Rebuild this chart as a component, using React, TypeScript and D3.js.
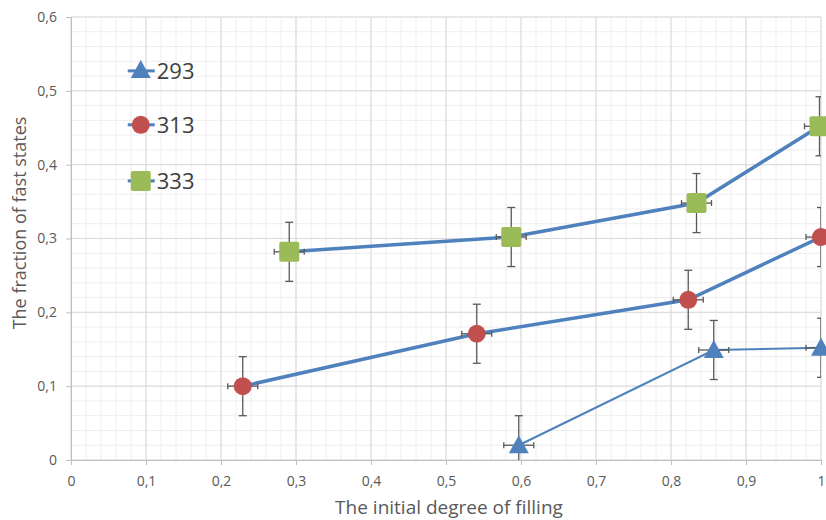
import * as React from "react";
import * as d3 from "d3";

const xTicks = [0, 0.1, 0.2, 0.3, 0.4, 0.5, 0.6, 0.7, 0.8, 0.9, 1];
const yTicks = [0, 0.1, 0.2, 0.3, 0.4, 0.5, 0.6];

const s293x = [0.597, 0.857, 1.0];
const s293y = [0.02, 0.149, 0.152];
const s313x = [0.229, 0.541, 0.823, 1.0];
const s313y = [0.1, 0.171, 0.217, 0.302];
const s333x = [0.291, 0.587, 0.834, 0.998];
const s333y = [0.282, 0.302, 0.348, 0.452];

const errX = 0.02;
const errY = 0.04;

const legendNames = ["293", "313", "333"];
const legendX = 0.093;
const legendY = [0.527, 0.454, 0.378];

const fmt = (v: number) => (v === 0 || v === 1 ? String(v) : String(v).replace(".", ","));

function drawChart(svgRef: React.RefObject<SVGSVGElement>) {
  const margin = { top: 17, left: 71 };
  const width = 750;
  const height = 443;
  const lineBlue = "#4F81BD";
  const textCol = "#595959";
  const font = "'Open Sans', 'Noto Sans', sans-serif";

  const x = d3.scaleLinear().domain([0, 1]).range([0, width]);
  const y = d3.scaleLinear().domain([0, 0.6]).range([height, 0]);

  const svgEl = d3.select(svgRef.current).attr("width", 826).attr("height", 520);
  svgEl.selectAll("*").remove();

  svgEl.append("defs").append("clipPath").attr("id", "plotclip")
    .append("rect").attr("x", 0).attr("y", 0).attr("width", width).attr("height", height);

  const svg = svgEl.append("g").attr("transform", `translate(${margin.left},${margin.top})`);

  // minor grid
  const minorX = d3.range(0, 1.0001, 0.02);
  const minorY = d3.range(0, 0.6001, 0.02);
  svg.append("g").selectAll("line").data(minorX).enter().append("line")
    .attr("x1", (d) => x(d)).attr("x2", (d) => x(d)).attr("y1", 0).attr("y2", height)
    .attr("stroke", "#EEEEEE").attr("stroke-width", 1);
  svg.append("g").selectAll("line").data(minorY).enter().append("line")
    .attr("y1", (d) => y(d)).attr("y2", (d) => y(d)).attr("x1", 0).attr("x2", width)
    .attr("stroke", "#EEEEEE").attr("stroke-width", 1);

  // major grid
  svg.append("g").selectAll("line").data(xTicks).enter().append("line")
    .attr("x1", (d) => x(d)).attr("x2", (d) => x(d)).attr("y1", 0).attr("y2", height)
    .attr("stroke", "#D9D9D9").attr("stroke-width", 1);
  svg.append("g").selectAll("line").data(yTicks).enter().append("line")
    .attr("y1", (d) => y(d)).attr("y2", (d) => y(d)).attr("x1", 0).attr("x2", width)
    .attr("stroke", "#D9D9D9").attr("stroke-width", 1);

  // axes
  const xAxis = svg.append("g").attr("transform", `translate(0,${height})`)
    .call(d3.axisBottom(x).tickValues(xTicks).tickFormat((d) => fmt(+d)).tickSize(5).tickPadding(11));
  const yAxis = svg.append("g")
    .call(d3.axisLeft(y).tickValues(yTicks).tickFormat((d) => fmt(+d)).tickSize(5).tickPadding(9));
  [xAxis, yAxis].forEach((a) => {
    a.selectAll("path").attr("stroke", "#BFBFBF");
    a.selectAll("line").attr("stroke", "#BFBFBF");
    a.selectAll("text").attr("fill", textCol).attr("font-size", 14).attr("font-family", font);
  });

  const series = [
    { xs: s293x, ys: s293y, shape: "tri", fill: lineBlue, w: 2 },
    { xs: s313x, ys: s313y, shape: "circle", fill: "#C0504D", w: 3.5 },
    { xs: s333x, ys: s333y, shape: "square", fill: "#9BBB59", w: 3.5 },
  ];

  const plot = svg.append("g").attr("clip-path", "url(#plotclip)");

  const drawMarker = (g: any, shape: string, fill: string, cx: number, cy: number) => {
    if (shape === "tri") {
      g.append("path").attr("d", `M${cx},${cy - 10}L${cx + 10},${cy + 8}L${cx - 10},${cy + 8}Z`).attr("fill", fill);
    } else if (shape === "circle") {
      g.append("circle").attr("cx", cx).attr("cy", cy).attr("r", 9).attr("fill", fill);
    } else {
      g.append("rect").attr("x", cx - 10).attr("y", cy - 10).attr("width", 20).attr("height", 20)
        .attr("rx", 2).attr("fill", fill);
    }
  };

  series.forEach((s) => {
    const pts: [number, number][] = s.xs.map((v, i) => [x(v), y(s.ys[i])]);
    plot.append("path").attr("d", d3.line()(pts)).attr("fill", "none")
      .attr("stroke", lineBlue).attr("stroke-width", s.w);
    const eb = plot.append("g").attr("stroke", "#595959").attr("stroke-width", 1.3);
    s.xs.forEach((v, i) => {
      const cx = x(v), cy = y(s.ys[i]);
      const t = y(s.ys[i] + errY), b = y(s.ys[i] - errY);
      const l = x(v - errX), r = x(v + errX);
      eb.append("line").attr("x1", cx).attr("x2", cx).attr("y1", t).attr("y2", b);
      eb.append("line").attr("x1", cx - 4).attr("x2", cx + 4).attr("y1", t).attr("y2", t);
      eb.append("line").attr("x1", cx - 4).attr("x2", cx + 4).attr("y1", b).attr("y2", b);
      eb.append("line").attr("x1", l).attr("x2", r).attr("y1", cy).attr("y2", cy);
      eb.append("line").attr("x1", l).attr("x2", l).attr("y1", cy - 3).attr("y2", cy + 3);
      eb.append("line").attr("x1", r).attr("x2", r).attr("y1", cy - 3).attr("y2", cy + 3);
    });
  });
  series.forEach((s) => {
    const mg = svg.append("g");
    s.xs.forEach((v, i) => drawMarker(mg, s.shape, s.fill, x(v), y(s.ys[i])));
  });

  // legend drawn inside the plot
  legendNames.forEach((name, i) => {
    const cx = x(legendX), cy = y(legendY[i]);
    const s = series[i];
    svg.append("line").attr("x1", cx - 13).attr("x2", cx + 14).attr("y1", cy).attr("y2", cy)
      .attr("stroke", lineBlue).attr("stroke-width", 3);
    drawMarker(svg, s.shape, s.fill, cx, cy - (s.shape === "tri" ? 1 : 0));
    svg.append("text").attr("x", cx + 16).attr("y", cy).attr("dy", "0.36em")
      .attr("font-size", 22).attr("font-family", font).attr("fill", "#404040").text(name);
  });

  // axis titles
  svgEl.append("text").attr("x", 449).attr("y", 514)
    .attr("text-anchor", "middle").attr("font-size", 19).attr("font-family", font)
    .attr("fill", textCol).text("The initial degree of filling");
  svgEl.append("text").attr("transform", `translate(26,223) rotate(-90)`)
    .attr("text-anchor", "middle").attr("font-size", 18).attr("font-family", font)
    .attr("fill", textCol).text("The fraction of fast states");
}

const App = () => {
  const svgRef = React.useRef<SVGSVGElement>(null);
  React.useEffect(() => {
    drawChart(svgRef as any);
  }, [svgRef]);
  return (
    <div style={{ position: "absolute", left: 0, top: 0 }}>
      <svg ref={svgRef} style={{ display: "block" }} />
    </div>
  );
};

export default App;
